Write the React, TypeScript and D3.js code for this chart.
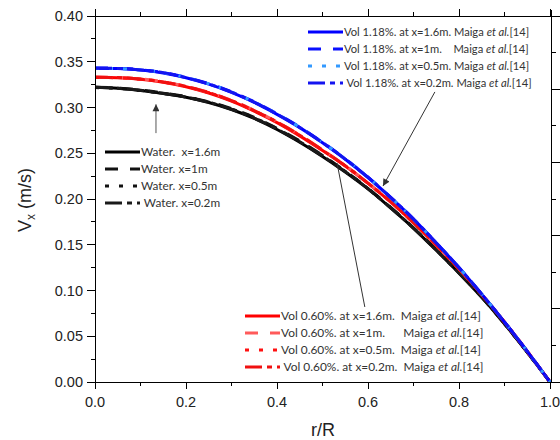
import React from "react";
import * as d3 from "d3";

// ---- data ----
const rR = [0, 0.05, 0.1, 0.15, 0.2, 0.25, 0.3, 0.35, 0.4, 0.45, 0.5, 0.55, 0.6, 0.65, 0.7, 0.75, 0.8, 0.85, 0.9, 0.95, 1.0];

const water16 = [0.322, 0.321, 0.3186, 0.3152, 0.3112, 0.3055, 0.2978, 0.288, 0.276, 0.262, 0.2465, 0.2295, 0.211, 0.19, 0.168, 0.144, 0.119, 0.0925, 0.0635, 0.0325, 0];
const water10 = [0.3222, 0.3213, 0.319, 0.3158, 0.3118, 0.3062, 0.2988, 0.2892, 0.2772, 0.2634, 0.2478, 0.2305, 0.2118, 0.1908, 0.1686, 0.1445, 0.1193, 0.0928, 0.0637, 0.0326, 0];
const water05 = [0.3218, 0.3209, 0.3185, 0.3153, 0.3115, 0.3059, 0.2984, 0.2888, 0.2768, 0.263, 0.2474, 0.2302, 0.2114, 0.1905, 0.1684, 0.1443, 0.1192, 0.0926, 0.0636, 0.0325, 0];
const water02 = [0.322, 0.3211, 0.3188, 0.3155, 0.3114, 0.3058, 0.2981, 0.2884, 0.2764, 0.2626, 0.247, 0.2299, 0.2112, 0.1902, 0.1682, 0.1442, 0.1191, 0.0926, 0.0636, 0.0325, 0];

const vol060_16 = [0.333, 0.3326, 0.331, 0.3277, 0.3227, 0.3158, 0.307, 0.296, 0.2835, 0.269, 0.253, 0.236, 0.217, 0.1965, 0.174, 0.1495, 0.1235, 0.0955, 0.0655, 0.0335, 0];
const vol060_10 = [0.3332, 0.3328, 0.3313, 0.3281, 0.3233, 0.3165, 0.3078, 0.2968, 0.2843, 0.2698, 0.2537, 0.2366, 0.2175, 0.1969, 0.1743, 0.1497, 0.1236, 0.0956, 0.0655, 0.0335, 0];
const vol060_05 = [0.3328, 0.3325, 0.3309, 0.3278, 0.323, 0.3162, 0.3075, 0.2965, 0.284, 0.2695, 0.2534, 0.2363, 0.2172, 0.1967, 0.1742, 0.1496, 0.1235, 0.0955, 0.0655, 0.0335, 0];
const vol060_02 = [0.333, 0.3327, 0.3311, 0.3279, 0.3231, 0.3163, 0.3076, 0.2966, 0.2841, 0.2696, 0.2535, 0.2364, 0.2173, 0.1968, 0.1742, 0.1496, 0.1235, 0.0955, 0.0655, 0.0335, 0];

const vol118_16 = [0.343, 0.3426, 0.341, 0.3378, 0.3325, 0.3255, 0.3165, 0.3055, 0.2925, 0.278, 0.2615, 0.2435, 0.2235, 0.2015, 0.178, 0.152, 0.125, 0.096, 0.0655, 0.0335, 0];
const vol118_10 = [0.3432, 0.3428, 0.3413, 0.3382, 0.333, 0.3261, 0.3172, 0.3062, 0.2932, 0.2786, 0.262, 0.2439, 0.2238, 0.2017, 0.1782, 0.1521, 0.1251, 0.0961, 0.0656, 0.0336, 0];
const vol118_05 = [0.3428, 0.3425, 0.341, 0.338, 0.3328, 0.3259, 0.317, 0.306, 0.293, 0.2784, 0.2618, 0.2437, 0.2237, 0.2016, 0.1781, 0.1521, 0.125, 0.096, 0.0655, 0.0335, 0];
const vol118_02 = [0.343, 0.3427, 0.3411, 0.3381, 0.3327, 0.3257, 0.3168, 0.3058, 0.2928, 0.2782, 0.2617, 0.2436, 0.2236, 0.2016, 0.1781, 0.152, 0.125, 0.096, 0.0655, 0.0335, 0];

const xTicks = [0, 0.2, 0.4, 0.6, 0.8, 1.0];
const yTicks = [0, 0.05, 0.1, 0.15, 0.2, 0.25, 0.3, 0.35, 0.4];

const waterLabels = ["Water.  x=1.6m", "Water. x=1m", "Water. x=0.5m", "Water. x=0.2m"];

// ---- styles ----
const DASH = ["", "13,12", "4,10", "17,5,5,5"];

type S = { values: number[]; color: string; dash: string };
const waterSeries: S[] = [
  { values: water16, color: "#000000", dash: DASH[0] },
  { values: water10, color: "#111111", dash: DASH[1] },
  { values: water05, color: "#111111", dash: DASH[2] },
  { values: water02, color: "#1a1a1a", dash: DASH[3] },
];
const redSeries: S[] = [
  { values: vol060_16, color: "#ff0000", dash: DASH[0] },
  { values: vol060_10, color: "#ff5a5a", dash: DASH[1] },
  { values: vol060_05, color: "#ff1010", dash: DASH[2] },
  { values: vol060_02, color: "#f01010", dash: DASH[3] },
];
const blueSeries: S[] = [
  { values: vol118_16, color: "#0000ff", dash: DASH[0] },
  { values: vol118_10, color: "#0a10ff", dash: DASH[1] },
  { values: vol118_05, color: "#3399ff", dash: DASH[2] },
  { values: vol118_02, color: "#1414f0", dash: DASH[3] },
];

const W = 560, H = 440;
const x = d3.scaleLinear().domain([0, 1]).range([95, 550]);
const y = d3.scaleLinear().domain([0, 0.4]).range([382, 16]);
const y2 = d3.scaleLinear().domain([0, 5]).range([382, 16]);

const line = d3
  .line<number>()
  .x((_, i) => x(rR[i]))
  .y((d) => y(d))
  .curve(d3.curveMonotoneX);

const tickFont = "'Liberation Sans', Arial, sans-serif";
const legFont = "Lato, 'Open Sans', sans-serif";

function LegendRow({ x0, yy, s, fs = 11.4, children }: { x0: number; yy: number; s: S; fs?: number; children: React.ReactNode }) {
  return (
    <g>
      <line x1={x0} x2={x0 + 35} y1={yy} y2={yy} stroke={s.color} strokeWidth={3} strokeDasharray={s.dash || undefined} />
      <text x={x0 + 36} y={yy + 4} fontFamily={legFont} fontSize={fs} fill="#333" xmlSpace="preserve">
        {children}
      </text>
    </g>
  );
}

const maiga = (pre: string) => (
  <>
    {pre}Maiga <tspan fontStyle="italic">et al.</tspan>[14]
  </>
);

export default function App() {
  const xMinor = d3.range(0, 1.0001, 0.1);
  const yMinor = d3.range(0, 0.40001, 0.025);
  const y2Major = d3.range(0, 5.0001, 1);
  const y2Minor = d3.range(0.5, 5, 1);

  const allGroups = [waterSeries, redSeries, blueSeries];

  return (
    <svg width={W} height={H} style={{ position: "absolute", left: 0, top: 0, background: "#fff" }}>
      <defs>
        <marker id="ah" viewBox="0 0 10 10" refX="10" refY="5" markerWidth="8" markerHeight="7" markerUnits="userSpaceOnUse" orient="auto">
          <path d="M0,0 L10,5 L0,10 z" fill="#333" />
        </marker>
      </defs>

      {/* curves */}
      {allGroups.map((g, gi) =>
        g.map((s, si) => (
          <path
            key={`${gi}-${si}`}
            d={line(s.values) || ""}
            fill="none"
            stroke={s.color}
            strokeWidth={3}
            strokeDasharray={s.dash || undefined}
          />
        ))
      )}

      {/* axes lines */}
      <g stroke="#000" strokeWidth={1} shapeRendering="crispEdges">
        <line x1={95} x2={95} y1={16} y2={382} />
        <line x1={95} x2={551} y1={382} y2={382} />
        <line x1={95} x2={551} y1={16} y2={16} />
        <line x1={551} x2={551} y1={10} y2={382} />
        {yMinor.map((v, i) => (
          <line key={"ly" + i} x1={95} x2={i % 2 === 0 ? 87 : 91} y1={y(v)} y2={y(v)} />
        ))}
        {xMinor.map((v, i) => (
          <g key={"bx" + i}>
            <line x1={x(v)} x2={x(v)} y1={382} y2={i % 2 === 0 ? 389 : 386} />
            <line x1={x(v)} x2={x(v)} y1={16} y2={i % 2 === 0 ? 9 : 12} />
          </g>
        ))}
        {y2Major.map((v, i) => (
          <line key={"r" + i} x1={551} x2={560} y1={y2(v)} y2={y2(v)} />
        ))}
        {y2Minor.map((v, i) => (
          <line key={"rm" + i} x1={551} x2={556} y1={y2(v)} y2={y2(v)} />
        ))}
      </g>

      {/* tick labels */}
      {yTicks.map((v) => (
        <text key={"yl" + v} x={83} y={y(v) + 5} textAnchor="end" fontFamily={tickFont} fontSize={14.5} fill="#222">
          {d3.format(".2f")(v)}
        </text>
      ))}
      {xTicks.map((v) => (
        <text key={"xl" + v} x={x(v)} y={406.5} textAnchor="middle" fontFamily={tickFont} fontSize={14.5} fill="#222">
          {d3.format(".1f")(v)}
        </text>
      ))}

      {/* axis titles */}
      <text x={323} y={436} textAnchor="middle" fontFamily={tickFont} fontSize={18} fill="#222">
        r/R
      </text>
      <text transform="translate(31,200) rotate(-90)" textAnchor="middle" fontFamily={tickFont} fontSize={18} fill="#222">
        V<tspan fontSize={12} dy={4}>x</tspan>
        <tspan dy={-4}> (m/s)</tspan>
      </text>

      {/* annotations */}
      <line x1={x(0.134)} y1={y(0.272)} x2={x(0.134)} y2={y(0.3035)} stroke="#555" strokeWidth={1} markerEnd="url(#ah)" />
      <line x1={x(0.747)} y1={y(0.317)} x2={x(0.633)} y2={y(0.2142)} stroke="#333" strokeWidth={1} markerEnd="url(#ah)" />
      <line x1={x(0.593)} y1={y(0.082)} x2={x(0.532)} y2={y(0.2393)} stroke="#333" strokeWidth={1} />

      {/* blue legend */}
      <LegendRow x0={308} yy={32} s={blueSeries[0]} fs={11.2}>{maiga("Vol 1.18%. at x=1.6m. ")}</LegendRow>
      <LegendRow x0={308} yy={49} s={blueSeries[1]} fs={11.2}>{maiga("Vol 1.18%. at x=1m.    ")}</LegendRow>
      <LegendRow x0={308} yy={66} s={blueSeries[2]} fs={11.2}>{maiga("Vol 1.18%. at x=0.5m. ")}</LegendRow>
      <LegendRow x0={308} yy={83} s={blueSeries[3]} fs={11.2}>{maiga(" Vol 1.18%. at x=0.2m. ")}</LegendRow>

      {/* water legend */}
      {waterSeries.map((s, i) => (
        <LegendRow key={"w" + i} x0={105} yy={152 + i * 17} s={s} fs={11.8}>
          {(i === 3 ? " " : "") + waterLabels[i]}
        </LegendRow>
      ))}

      {/* red legend */}
      <LegendRow x0={245} yy={316} s={redSeries[0]} fs={11.9}>{maiga("Vol 0.60%. at x=1.6m.  ")}</LegendRow>
      <LegendRow x0={245} yy={333} s={redSeries[1]} fs={11.9}>{maiga("Vol 0.60%. at x=1m.      ")}</LegendRow>
      <LegendRow x0={245} yy={350} s={redSeries[2]} fs={11.9}>{maiga("Vol 0.60%. at x=0.5m.  ")}</LegendRow>
      <LegendRow x0={245} yy={367} s={redSeries[3]} fs={11.9}>{maiga(" Vol 0.60%. at x=0.2m.  ")}</LegendRow>
    </svg>
  );
}
